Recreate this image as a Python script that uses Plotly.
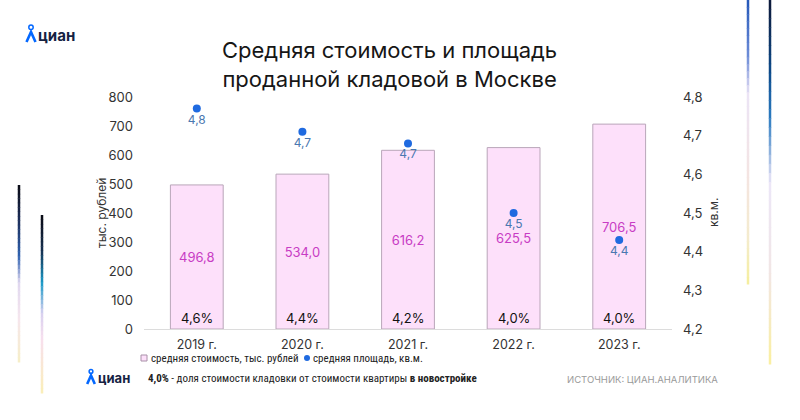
import plotly.graph_objects as go

years = ["2019 г.", "2020 г.", "2021 г.", "2022 г.", "2023 г."]
avg_cost = [496.8, 534.0, 616.2, 625.5, 706.5]
avg_area = [4.77, 4.71, 4.68, 4.50, 4.43]
share_pct = [4.6, 4.4, 4.2, 4.0, 4.0]

cost_name = "средняя стоимость, тыс. рублей"
area_name = "средняя площадь, кв.м."

W, H = 800, 420
FONT = "Inter"
SMALL = "Roboto Condensed, Liberation Sans Narrow, Roboto, sans-serif"

def px(x):
    return x / W

def py(y):
    return 1 - y / H

fig = go.Figure()

fig.add_trace(go.Bar(
    x=years, y=avg_cost, name=cost_name,
    marker=dict(color="#fde0fa", line=dict(color="#b9a6b9", width=1)),
    width=0.5,
    text=[f"{v:.1f}".replace(".", ",") for v in avg_cost],
    textposition="inside", insidetextanchor="middle",
    textfont=dict(color="#c83cc4", size=13, family=FONT),
    yaxis="y", hoverinfo="skip", showlegend=False,
))

fig.add_trace(go.Scatter(
    x=years, y=avg_area, name=area_name,
    mode="markers+text",
    marker=dict(color="#1f6ae0", size=8),
    text=[f"{v:.1f}".replace(".", ",") for v in avg_area],
    textposition="bottom center",
    textfont=dict(color="#4a78b0", size=12, family=FONT),
    yaxis="y2", hoverinfo="skip", showlegend=False,
))

annotations = []
for yr, s in zip(years, share_pct):
    annotations.append(dict(
        x=yr, y=0, xref="x", yref="y", yanchor="bottom", yshift=1,
        text=f"{s:.1f}".replace(".", ",") + "%", showarrow=False,
        font=dict(size=13, color="#111111", family=FONT),
    ))

# Title
annotations.append(dict(
    x=px(389), y=py(64), xref="paper", yref="paper", xanchor="center", yanchor="middle",
    text="Средняя стоимость и площадь<br>проданной кладовой в Москве",
    showarrow=False, font=dict(size=22, color="#161616", family=FONT),
    align="center",
))
# Axis titles
annotations.append(dict(
    x=px(101), y=py(213), xref="paper", yref="paper", xanchor="center", yanchor="middle",
    textangle=-90, text="тыс. рублей", showarrow=False,
    font=dict(size=12, color="#333", family=FONT),
))
annotations.append(dict(
    x=px(713), y=py(213), xref="paper", yref="paper", xanchor="center", yanchor="middle",
    textangle=-90, text="кв.м.", showarrow=False,
    font=dict(size=12, color="#333", family=FONT),
))
# Logos
annotations.append(dict(
    x=px(36), y=py(35), xref="paper", yref="paper", xanchor="left", yanchor="middle",
    text="<b>циан</b>", showarrow=False, font=dict(size=15, color="#152242", family=FONT),
))
annotations.append(dict(
    x=px(96), y=py(378), xref="paper", yref="paper", xanchor="left", yanchor="middle",
    text="<b>циан</b>", showarrow=False, font=dict(size=13, color="#152242", family=FONT),
))
# Legend (drawn manually)
annotations.append(dict(
    x=px(149), y=py(358), xref="paper", yref="paper", xanchor="left", yanchor="middle",
    text=cost_name, showarrow=False, font=dict(size=11, color="#222", family=SMALL),
))
annotations.append(dict(
    x=px(311), y=py(358), xref="paper", yref="paper", xanchor="left", yanchor="middle",
    text=area_name, showarrow=False, font=dict(size=11, color="#222", family=SMALL),
))
# Footer
annotations.append(dict(
    x=px(146), y=py(378), xref="paper", yref="paper", xanchor="left", yanchor="middle",
    text="<b>4,0%</b> - доля стоимости кладовки от стоимости квартиры <b>в новостройке</b>",
    showarrow=False, font=dict(size=11, color="#222", family=SMALL),
))
annotations.append(dict(
    x=px(565), y=py(379), xref="paper", yref="paper", xanchor="left", yanchor="middle",
    text="ИСТОЧНИК: ЦИАН.АНАЛИТИКА",
    showarrow=False, font=dict(size=9.5, color="#9a9a9a", family=FONT),
))

shapes = []

# legend symbols
shapes.append(dict(type="rect", xref="paper", yref="paper",
                   x0=px(141), x1=px(147), y0=py(361), y1=py(355),
                   fillcolor="#fde0fa", line=dict(color="#a890a8", width=1)))
shapes.append(dict(type="circle", xref="paper", yref="paper",
                   x0=px(304), x1=px(310), y0=py(361), y1=py(355),
                   fillcolor="#1f6ae0", line=dict(color="#1f6ae0", width=0)))

def hex2rgb(h):
    h = h.lstrip("#")
    return tuple(int(h[i:i + 2], 16) for i in (0, 2, 4))

def grad_line(x, y0, y1, stops, width=2.5, n=40):
    for i in range(n):
        t0 = i / n
        t1 = (i + 1) / n
        tm = (t0 + t1) / 2
        col = stops[-1][1]
        for j in range(len(stops) - 1):
            a, ca = stops[j]
            b, cb = stops[j + 1]
            if a <= tm <= b:
                f = (tm - a) / (b - a)
                r1, g1, b1 = hex2rgb(ca)
                r2, g2, b2 = hex2rgb(cb)
                col = "rgb(%d,%d,%d)" % (r1 + (r2 - r1) * f, g1 + (g2 - g1) * f, b1 + (b2 - b1) * f)
                break
        ya = y0 + (y1 - y0) * t0
        yb = y0 + (y1 - y0) * t1 + 0.5
        shapes.append(dict(type="line", xref="paper", yref="paper",
                           x0=px(x), x1=px(x), y0=py(ya), y1=py(yb),
                           line=dict(color=col, width=width), layer="above"))

grad_line(19, 185, 362, [(0, "#0a0a14"), (0.2, "#1c2e5a"), (0.4, "#2f62b0"), (0.55, "#e0d8f0"), (0.75, "#f6e6ee"), (1, "#f7efc8")])
grad_line(42, 215, 393, [(0, "#0a0a14"), (0.2, "#173050"), (0.38, "#1a9ac8"), (0.55, "#d8d0f0"), (0.7, "#f8e0ee"), (1, "#fbefb8")])
grad_line(748, 0, 284, [(0, "#2457b8"), (0.2, "#6f8ed8"), (0.33, "#ece4f6"), (0.6, "#f4e4e4"), (0.85, "#f4eccc"), (1, "#f6ef9c")])
grad_line(770, 0, 364, [(0, "#0c1838"), (0.2, "#0e4c8c"), (0.32, "#2a7ac0"), (0.5, "#ece6f8"), (0.75, "#f2e6e6"), (1, "#fbf0a0")])

# logo pins
for (cx, cy, s) in [(31, 35, 1.0), (91, 378, 0.85)]:
    shapes.append(dict(type="circle", xref="paper", yref="paper",
                       x0=px(cx - 2.2 * s), x1=px(cx + 2.2 * s),
                       y0=py(cy - 5.5 * s), y1=py(cy - 10 * s),
                       line=dict(color="#0468ff", width=1.5)))
    path = "M %f %f L %f %f L %f %f" % (
        px(cx - 4.5 * s), py(cy + 7 * s), px(cx), py(cy - 3 * s), px(cx + 4.5 * s), py(cy + 7 * s))
    shapes.append(dict(type="path", xref="paper", yref="paper", path=path,
                       line=dict(color="#0468ff", width=2.6)))

fig.update_layout(
    width=W, height=H,
    margin=dict(l=0, r=0, t=0, b=0, pad=0, autoexpand=False),
    paper_bgcolor="white", plot_bgcolor="white",
    separators=", ",
    font=dict(family=FONT, color="#333"),
    showlegend=False,
    xaxis=dict(domain=[px(144), px(672)], showline=True, linecolor="#dcdcdc", linewidth=1,
               ticks="", tickfont=dict(size=12.5, color="#333"), showgrid=False,
               ticklabelstandoff=4, automargin=False),
    yaxis=dict(domain=[py(329), py(97)], range=[0, 800], dtick=100, showgrid=False,
               zeroline=False, tickfont=dict(size=13, color="#333"), ticklabelstandoff=10,
               automargin=False),
    yaxis2=dict(overlaying="y", side="right", range=[4.2, 4.8], dtick=0.1, showgrid=False,
                zeroline=False, tickfont=dict(size=13, color="#333"), tickformat=".1f",
                ticklabelstandoff=10, automargin=False),
    annotations=annotations,
    shapes=shapes,
)

fig.write_html("out.html", config={"displayModeBar": False},
               post_script="document.body.style.margin='0px';")
